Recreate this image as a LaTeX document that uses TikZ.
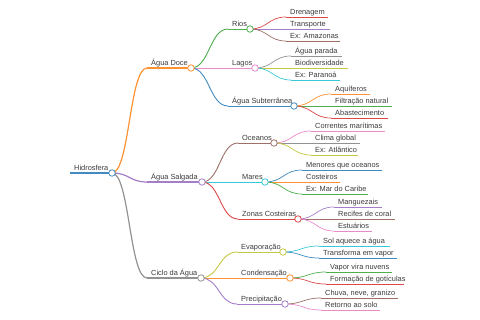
\documentclass[tikz,border=0pt]{standalone}
\usepackage{fontspec}
\setmainfont{Liberation Sans}
\usetikzlibrary{calc}
\pgfdeclarelayer{bg}\pgfsetlayers{bg,main}
\definecolor{cBlue}{HTML}{1F77B4}
\definecolor{cOrange}{HTML}{FF7F0E}
\definecolor{cGreen}{HTML}{2CA02C}
\definecolor{cRed}{HTML}{D62728}
\definecolor{cPurple}{HTML}{9467BD}
\definecolor{cBrown}{HTML}{8C564B}
\definecolor{cPink}{HTML}{E377C2}
\definecolor{cGray}{HTML}{7F7F7F}
\definecolor{cOlive}{HTML}{BCBD22}
\definecolor{cCyan}{HTML}{17BECF}
\definecolor{txt}{HTML}{3A3A3A}
\tikzset{
  lbl/.style={inner sep=0pt, text=txt, font=\fontsize{7.4}{8}\selectfont},
  knot/.style={circle, fill=white, line width=0.8pt, minimum size=6.5pt, inner sep=0pt},
}
% #1 id, #2 parent id, #3 x start, #4 x end, #5 y, #6 colour, #7 line width, #8 text
\newcommand\mmbranch[8]{%
  \coordinate (#1-s) at (#3,#5);
  \coordinate (#1-e) at (#4,#5);
  \node[lbl, anchor=base west] (#1) at ($(#1-s)+(4,-2.6)$) {#8};
  \begin{pgfonlayer}{bg}
    \draw[#6!85!white, line width=#7] (#1-s) -- (#1-e);
    \draw[#6!85!white, line width=#7] let \p1=(#2-e), \p2=(#1-s) in
      (\p1) .. controls ({(\x1+\x2)/2},\y1) and ({(\x1+\x2)/2},\y2) .. (\p2);
  \end{pgfonlayer}
}
\newcommand\mmnode[8]{%
  \mmbranch{#1}{#2}{#3}{#4}{#5}{#6}{#7}{#8}%
  \node[knot, draw=#6!85!white] (#1-c) at (#1-e) {};
}
\begin{document}
\begin{tikzpicture}[x=1pt, y=-1pt]
\useasboundingbox (0,0) rectangle (480,320);
% root
\coordinate (root-s) at (70,173);
\coordinate (root-e) at (112,173);
\node[lbl, anchor=base west] (root) at ($(root-s)+(4,-2.6)$) {Hidrosfera};
\begin{pgfonlayer}{bg}
  \draw[cBlue!85!white, line width=1.6pt] (root-s) -- (root-e);
\end{pgfonlayer}
\node[knot, draw=cBlue!85!white] (root-c) at (root-e) {};
% level 1
\mmnode{doce}{root}{147}{191}{68}{cOrange}{1.2pt}{Água Doce}
\mmnode{salg}{root}{147}{202}{182}{cPurple}{1.2pt}{Água Salgada}
\mmnode{ciclo}{root}{147}{201}{278}{cGray}{1.2pt}{Ciclo da Água}
% level 2
\mmnode{rios}{doce}{228}{250}{29}{cGreen}{0.9pt}{Rios}
\mmnode{lagos}{doce}{228}{255}{68}{cPink}{0.9pt}{Lagos}
\mmnode{subt}{doce}{228}{294}{106}{cBlue}{0.9pt}{Água Subterrânea}
\mmnode{oce}{salg}{238}{274}{143}{cBrown}{0.9pt}{Oceanos}
\mmnode{mares}{salg}{238}{265}{182}{cCyan}{0.9pt}{Mares}
\mmnode{zonas}{salg}{238}{298}{219}{cRed}{0.9pt}{Zonas Costeiras}
\mmnode{evap}{ciclo}{237}{283}{252}{cOlive}{0.9pt}{Evaporação}
\mmnode{cond}{ciclo}{237}{290}{278}{cOrange}{0.9pt}{Condensação}
\mmnode{prec}{ciclo}{237}{285}{304}{cPurple}{0.9pt}{Precipitação}
% level 3
\mmbranch{dren}{rios}{286}{328}{17}{cRed}{0.7pt}{Drenagem}
\mmbranch{transp}{rios}{286}{330}{29}{cPurple}{0.7pt}{Transporte}
\mmbranch{amaz}{rios}{286}{340}{41}{cBrown}{0.7pt}{Ex: Amazonas}
\mmbranch{parada}{lagos}{291}{342}{56}{cGray}{0.7pt}{Água parada}
\mmbranch{biod}{lagos}{291}{348}{68}{cOlive}{0.7pt}{Biodiversidade}
\mmbranch{parana}{lagos}{291}{340}{80}{cCyan}{0.7pt}{Ex: Paranoá}
\mmbranch{aquif}{subt}{331}{370}{94}{cOrange}{0.7pt}{Aquíferos}
\mmbranch{filtr}{subt}{331}{392}{106}{cGreen}{0.7pt}{Filtração natural}
\mmbranch{abast}{subt}{331}{388}{118}{cRed}{0.7pt}{Abastecimento}
\mmbranch{corr}{oce}{311}{385}{131}{cPink}{0.7pt}{Correntes marítimas}
\mmbranch{clima}{oce}{311}{360}{143}{cGray}{0.7pt}{Clima global}
\mmbranch{atl}{oce}{311}{358}{155}{cOlive}{0.7pt}{Ex: Atlântico}
\mmbranch{menor}{mares}{302}{382}{170}{cBlue}{0.7pt}{Menores que oceanos}
\mmbranch{cost}{mares}{302}{340}{182}{cOrange}{0.7pt}{Costeiros}
\mmbranch{carib}{mares}{302}{368}{194}{cGreen}{0.7pt}{Ex: Mar do Caribe}
\mmbranch{mangue}{zonas}{334}{382}{207}{cPurple}{0.7pt}{Manguezais}
\mmbranch{recif}{zonas}{334}{395}{219}{cBrown}{0.7pt}{Recifes de coral}
\mmbranch{estu}{zonas}{334}{372}{231}{cPink}{0.7pt}{Estuários}
\mmbranch{sol}{evap}{319}{390}{246}{cCyan}{0.7pt}{Sol aquece a água}
\mmbranch{transf}{evap}{319}{397}{258}{cBlue}{0.7pt}{Transforma em vapor}
\mmbranch{vapor}{cond}{326}{392}{272}{cGreen}{0.7pt}{Vapor vira nuvens}
\mmbranch{form}{cond}{326}{404}{284}{cRed}{0.7pt}{Formação de gotículas}
\mmbranch{chuva}{prec}{321}{398}{298}{cBrown}{0.7pt}{Chuva, neve, granizo}
\mmbranch{ret}{prec}{321}{380}{310}{cPink}{0.7pt}{Retorno ao solo}
\end{tikzpicture}
\end{document}
